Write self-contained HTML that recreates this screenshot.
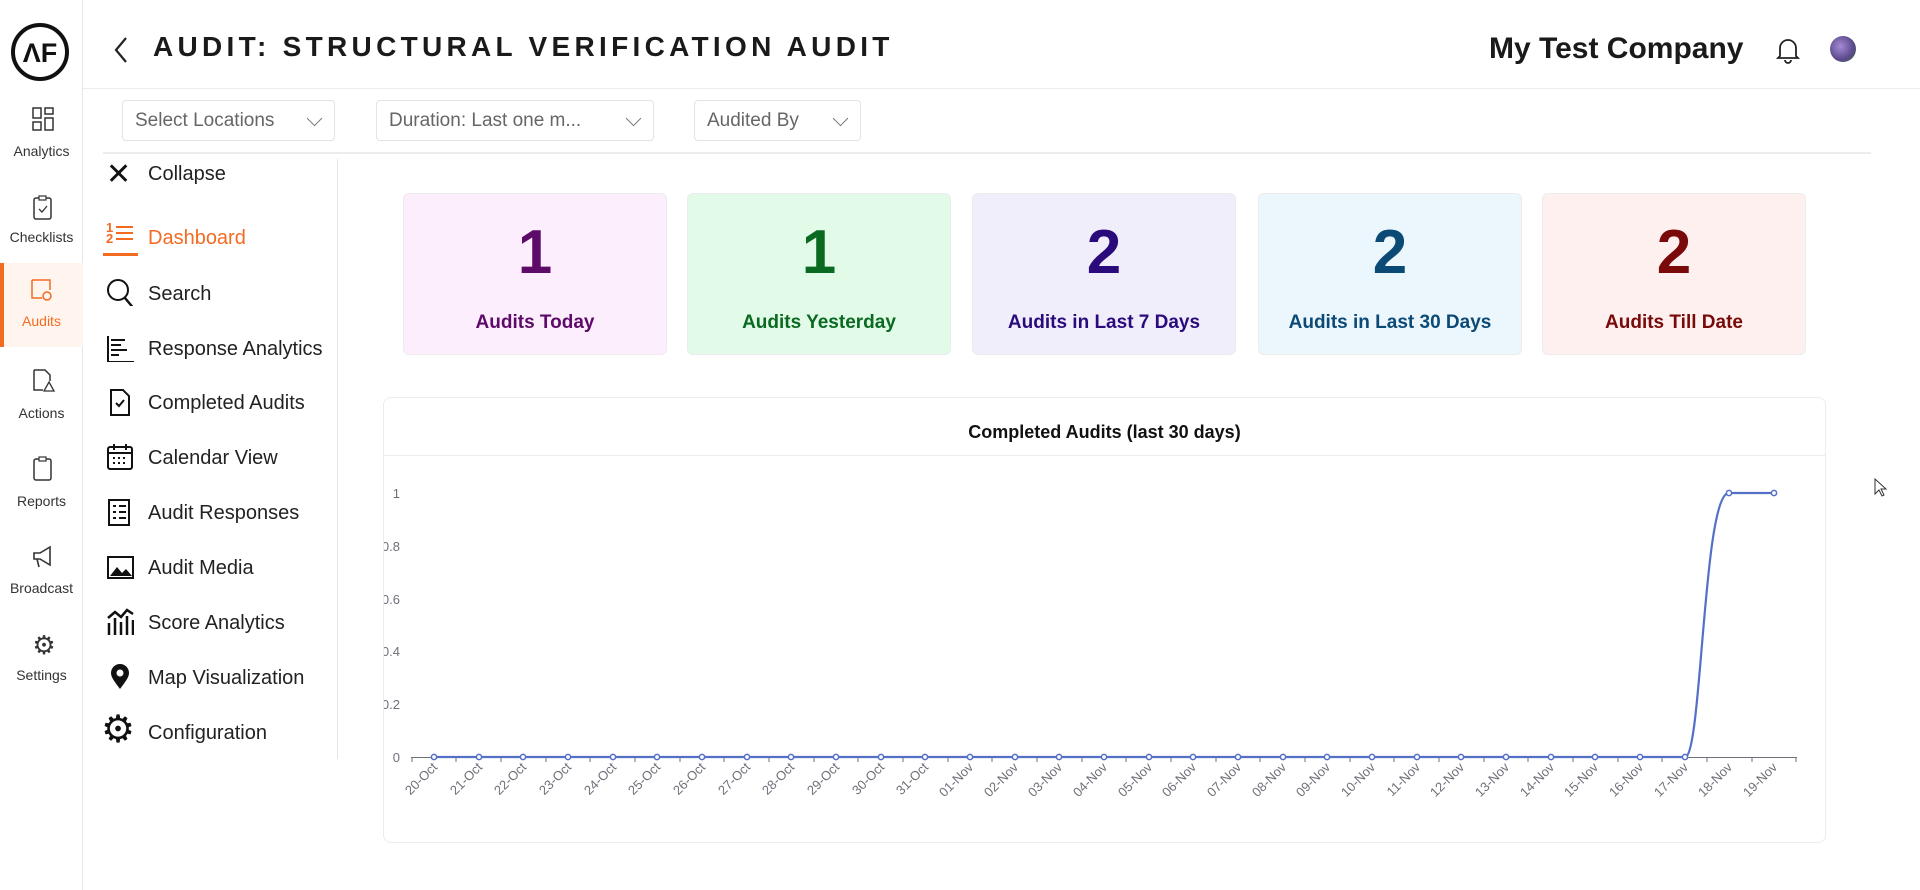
<!DOCTYPE html>
<html><head><meta charset="utf-8"><style>
*{box-sizing:border-box;margin:0;padding:0}
body{width:1920px;height:890px;background:#fff;font-family:"Liberation Sans",sans-serif;position:relative;overflow:hidden;color:#222}
.abs{position:absolute}
.rail{left:0;top:0;width:83px;height:890px;border-right:1px solid #e6e6e6}
.ri{position:absolute;left:0;width:83px;text-align:center;font-size:14px;color:#333}
.dd{position:absolute;top:100px;height:41px;border:1px solid #e3e3e3;border-radius:4px;font-size:19px;color:#666;padding:0 12px;line-height:39px}
.dd span{position:absolute;right:14px;top:12px;width:11px;height:11px;border-right:1.5px solid #777;border-bottom:1.5px solid #777;transform:rotate(45deg)}
.nav{position:absolute;left:148px;font-size:20px;color:#222;line-height:24px}
.ic{position:absolute;left:106px;width:28px;height:28px}
.card{position:absolute;top:193px;width:264px;height:162px;border:1px solid #ececec;border-radius:6px;text-align:center}
.card b{display:block;font-size:62px;margin-top:24px;line-height:70px}
.card i{display:block;font-style:normal;font-weight:bold;font-size:19px;margin-top:24px}
</style></head><body>
<div class="abs rail"></div>
<svg class="abs" style="left:10px;top:22px" width="60" height="60"><circle cx="30" cy="30" r="27" fill="none" stroke="#111" stroke-width="4"/><text x="30" y="40" font-family="Liberation Sans" font-weight="bold" font-size="27" text-anchor="middle" fill="#111">ΛF</text></svg>
<svg class="abs" style="left:32px;top:107px" width="24" height="26"><rect x="1" y="1" width="8" height="10" fill="none" stroke="#333" stroke-width="1.5"/><rect x="13" y="1" width="8" height="6" fill="none" stroke="#333" stroke-width="1.5"/><rect x="1" y="15" width="8" height="8" fill="none" stroke="#333" stroke-width="1.5"/><rect x="13" y="11" width="8" height="12" fill="none" stroke="#333" stroke-width="1.5"/></svg>
<div class="ri" style="top:143px">Analytics</div>
<svg class="abs" style="left:33px;top:195px" width="20" height="26"><rect x="1" y="3" width="17" height="21" rx="2" fill="none" stroke="#333" stroke-width="1.5"/><rect x="6" y="1" width="7" height="4" fill="#fff" stroke="#333" stroke-width="1.2"/><path d="M6 14l3 3 5-6" fill="none" stroke="#333" stroke-width="1.3"/></svg>
<div class="ri" style="top:229px">Checklists</div>
<div class="abs" style="left:0;top:263px;width:83px;height:84px;background:#fff5ee;border-left:4px solid #f26b21"></div>
<svg class="abs" style="left:30px;top:278px" width="26" height="26"><path d="M2 2h18v10M2 2v18h10" fill="none" stroke="#f26b21" stroke-width="1.5"/><circle cx="17" cy="18" r="4" fill="none" stroke="#f26b21" stroke-width="1.5"/></svg>
<div class="ri" style="top:313px;color:#f26b21">Audits</div>
<svg class="abs" style="left:32px;top:368px" width="24" height="26"><path d="M2 2h11l5 5v6M2 2v20h9" fill="none" stroke="#333" stroke-width="1.5"/><path d="M17 14l5 9h-10z" fill="none" stroke="#333" stroke-width="1.3"/></svg>
<div class="ri" style="top:405px">Actions</div>
<svg class="abs" style="left:33px;top:456px" width="20" height="26"><rect x="1" y="3" width="17" height="21" rx="2" fill="none" stroke="#333" stroke-width="1.5"/><rect x="6" y="1" width="7" height="4" fill="#fff" stroke="#333" stroke-width="1.2"/></svg>
<div class="ri" style="top:493px">Reports</div>
<svg class="abs" style="left:31px;top:545px" width="26" height="24"><path d="M3 8h6l10-6v18L9 14H3z M6 14l2 8" fill="none" stroke="#333" stroke-width="1.6"/></svg>
<div class="ri" style="top:580px">Broadcast</div>
<div class="abs" style="left:31px;top:630px;font-size:26px;color:#333;width:26px;text-align:center">⚙</div>
<div class="ri" style="top:667px">Settings</div>

<svg class="abs" style="left:112px;top:36px" width="20" height="28"><path d="M14 2L4 14l10 12" fill="none" stroke="#222" stroke-width="2.2"/></svg>
<div class="abs" style="left:153px;top:31px;font-size:28px;font-weight:bold;letter-spacing:4.3px;color:#1a1a1a">AUDIT: STRUCTURAL VERIFICATION AUDIT</div>
<div class="abs" style="left:1489px;top:32px;font-size:30px;font-weight:bold;color:#1a1a1a">My Test Company</div>
<svg class="abs" style="left:1776px;top:36px" width="24" height="28"><path d="M4 20V12a8 8 0 0 1 16 0v8l2 2H2z M9 24a3 3 0 0 0 6 0" fill="none" stroke="#222" stroke-width="1.8"/></svg>
<div class="abs" style="left:1830px;top:36px;width:26px;height:26px;border-radius:50%;background:radial-gradient(circle at 40% 40%,#a58ad6,#5a4a8a 60%,#3a6a3a)"></div>
<div class="abs" style="left:83px;top:88px;width:1837px;height:1px;background:#ececec"></div>
<div class="dd" style="left:122px;width:213px">Select Locations<span></span></div>
<div class="dd" style="left:376px;width:278px">Duration: Last one m...<span></span></div>
<div class="dd" style="left:694px;width:167px">Audited By<span></span></div>
<div class="abs" style="left:103px;top:152px;width:1768px;height:2px;background:#ececec"></div>
<div class="abs" style="left:337px;top:159px;width:1px;height:600px;background:#e6e6e6"></div>

<div class="abs" style="left:106px;top:160px;font-size:30px;line-height:30px;color:#111">✕</div>
<div class="nav" style="top:162px">Collapse</div>
<div class="abs" style="left:106px;top:222px;font-size:13px;color:#f26b21;line-height:11px;font-weight:bold">1<br>2</div>
<div class="abs" style="left:116px;top:226px;width:17px;height:14px;border-top:2px solid #f26b21;border-bottom:2px solid #f26b21"><div style="margin-top:4px;height:2px;background:#f26b21"></div></div>
<div class="abs" style="left:103px;top:253px;width:35px;height:3px;background:#f26b21"></div>
<div class="nav" style="top:226px;color:#f26b21">Dashboard</div>
<svg class="ic" style="top:278px" width="32" height="34"><circle cx="12" cy="12" r="10" fill="none" stroke="#111" stroke-width="2"/><path d="M19 20l10 12" stroke="#111" stroke-width="2.4"/></svg>
<div class="nav" style="top:282px">Search</div>
<svg class="ic" style="top:334px"><path d="M2 2v26h26M5 6h14M5 11h10M5 16h16M5 21h8" fill="none" stroke="#111" stroke-width="2"/></svg>
<div class="nav" style="top:337px">Response Analytics</div>
<svg class="ic" style="top:388px"><path d="M5 2h12l6 6v19H5z M10 15l3 3 5-6" fill="none" stroke="#111" stroke-width="2"/></svg>
<div class="nav" style="top:391px">Completed Audits</div>
<svg class="ic" style="top:443px"><rect x="2" y="4" width="24" height="22" rx="2" fill="none" stroke="#111" stroke-width="2"/><path d="M2 10h24M8 1v6M20 1v6" stroke="#111" stroke-width="2"/><path d="M7 15h2M12 15h2M17 15h2M7 20h2M12 20h2M17 20h2" stroke="#111" stroke-width="2"/></svg>
<div class="nav" style="top:446px">Calendar View</div>
<svg class="ic" style="top:498px"><rect x="3" y="2" width="20" height="25" fill="none" stroke="#111" stroke-width="2"/><path d="M7 8h3M13 8h7M7 14h3M13 14h7M7 20h3M13 20h7" stroke="#111" stroke-width="2"/></svg>
<div class="nav" style="top:501px">Audit Responses</div>
<svg class="ic" style="top:553px"><rect x="2" y="4" width="25" height="21" fill="none" stroke="#111" stroke-width="2"/><path d="M4 23l7-9 5 6 4-4 6 7z" fill="#111"/></svg>
<div class="nav" style="top:556px">Audit Media</div>
<svg class="ic" style="top:608px"><path d="M3 27V15M9 27V10M15 27V14M21 27V8M27 27V12M2 10l7-6 6 5 6-7 6 4" fill="none" stroke="#111" stroke-width="2.5"/></svg>
<div class="nav" style="top:611px">Score Analytics</div>
<svg class="ic" style="top:663px"><path d="M14 26c-6-8-9-12-9-16a9 9 0 0 1 18 0c0 4-3 8-9 16z" fill="#111"/><circle cx="14" cy="10" r="3.5" fill="#fff"/></svg>
<div class="nav" style="top:666px">Map Visualization</div>
<div class="abs" style="left:101px;top:711px;font-size:38px;line-height:38px;color:#111">⚙</div>
<div class="nav" style="top:721px">Configuration</div>

<div class="card" style="left:403px;background:#fdeefd;color:#5c0b68"><b>1</b><i>Audits Today</i></div>
<div class="card" style="left:687px;background:#e2fbe8;color:#0b6a22"><b>1</b><i>Audits Yesterday</i></div>
<div class="card" style="left:972px;background:#f1eefc;color:#2b0b7c"><b>2</b><i>Audits in Last 7 Days</i></div>
<div class="card" style="left:1258px;background:#ecf6fd;color:#0c4a76"><b>2</b><i>Audits in Last 30 Days</i></div>
<div class="card" style="left:1542px;background:#fdf0ef;color:#7a0a0a"><b>2</b><i>Audits Till Date</i></div>

<div class="abs" style="left:383px;top:397px;width:1443px;height:446px;border:1px solid #ececec;border-radius:8px;overflow:hidden">
<div style="text-align:center;font-weight:bold;font-size:18px;margin-top:24px;color:#111">Completed Audits (last 30 days)</div>
<div style="position:absolute;left:0;top:57px;width:100%;height:1px;background:#ececec"></div>
</div>
<svg class="abs" style="left:384px;top:0" width="1440" height="890" font-family="Liberation Sans" font-size="13" fill="#6e7079">
<g transform="translate(-384,0)">
<g text-anchor="end">
<text x="400" y="498">1</text><text x="400" y="551">0.8</text><text x="400" y="604">0.6</text><text x="400" y="656">0.4</text><text x="400" y="709">0.2</text><text x="400" y="762">0</text>
</g>
<line x1="411" y1="757.5" x2="1797" y2="757.5" stroke="#6e7079" stroke-width="1"/>
<path stroke="#6e7079" fill="none" d="M412 757v5M456 757v5M501 757v5M546 757v5M590 757v5M635 757v5M680 757v5M724 757v5M769 757v5M814 757v5M858 757v5M903 757v5M948 757v5M992 757v5M1037 757v5M1082 757v5M1126 757v5M1171 757v5M1216 757v5M1260 757v5M1305 757v5M1350 757v5M1394 757v5M1439 757v5M1484 757v5M1528 757v5M1573 757v5M1618 757v5M1662 757v5M1707 757v5M1752 757v5M1796 757v5"/>
<g text-anchor="end">
<text transform="translate(438,768) rotate(-45)">20-Oct</text>
<text transform="translate(483,768) rotate(-45)">21-Oct</text>
<text transform="translate(527,768) rotate(-45)">22-Oct</text>
<text transform="translate(572,768) rotate(-45)">23-Oct</text>
<text transform="translate(617,768) rotate(-45)">24-Oct</text>
<text transform="translate(661,768) rotate(-45)">25-Oct</text>
<text transform="translate(706,768) rotate(-45)">26-Oct</text>
<text transform="translate(751,768) rotate(-45)">27-Oct</text>
<text transform="translate(795,768) rotate(-45)">28-Oct</text>
<text transform="translate(840,768) rotate(-45)">29-Oct</text>
<text transform="translate(885,768) rotate(-45)">30-Oct</text>
<text transform="translate(929,768) rotate(-45)">31-Oct</text>
<text transform="translate(974,768) rotate(-45)">01-Nov</text>
<text transform="translate(1019,768) rotate(-45)">02-Nov</text>
<text transform="translate(1063,768) rotate(-45)">03-Nov</text>
<text transform="translate(1108,768) rotate(-45)">04-Nov</text>
<text transform="translate(1153,768) rotate(-45)">05-Nov</text>
<text transform="translate(1197,768) rotate(-45)">06-Nov</text>
<text transform="translate(1242,768) rotate(-45)">07-Nov</text>
<text transform="translate(1287,768) rotate(-45)">08-Nov</text>
<text transform="translate(1331,768) rotate(-45)">09-Nov</text>
<text transform="translate(1376,768) rotate(-45)">10-Nov</text>
<text transform="translate(1421,768) rotate(-45)">11-Nov</text>
<text transform="translate(1465,768) rotate(-45)">12-Nov</text>
<text transform="translate(1510,768) rotate(-45)">13-Nov</text>
<text transform="translate(1555,768) rotate(-45)">14-Nov</text>
<text transform="translate(1599,768) rotate(-45)">15-Nov</text>
<text transform="translate(1644,768) rotate(-45)">16-Nov</text>
<text transform="translate(1689,768) rotate(-45)">17-Nov</text>
<text transform="translate(1733,768) rotate(-45)">18-Nov</text>
<text transform="translate(1778,768) rotate(-45)">19-Nov</text>
</g>
<path d="M434 757H1685C1702 757 1703 493 1729 493H1774" fill="none" stroke="#5470c6" stroke-width="2.2"/>
<g fill="#fff" stroke="#5470c6" stroke-width="1.5">
<circle cx="434" cy="757" r="2.6"/><circle cx="479" cy="757" r="2.6"/><circle cx="523" cy="757" r="2.6"/><circle cx="568" cy="757" r="2.6"/><circle cx="613" cy="757" r="2.6"/><circle cx="657" cy="757" r="2.6"/><circle cx="702" cy="757" r="2.6"/><circle cx="747" cy="757" r="2.6"/><circle cx="791" cy="757" r="2.6"/><circle cx="836" cy="757" r="2.6"/><circle cx="881" cy="757" r="2.6"/><circle cx="925" cy="757" r="2.6"/><circle cx="970" cy="757" r="2.6"/><circle cx="1015" cy="757" r="2.6"/><circle cx="1059" cy="757" r="2.6"/><circle cx="1104" cy="757" r="2.6"/><circle cx="1149" cy="757" r="2.6"/><circle cx="1193" cy="757" r="2.6"/><circle cx="1238" cy="757" r="2.6"/><circle cx="1283" cy="757" r="2.6"/><circle cx="1327" cy="757" r="2.6"/><circle cx="1372" cy="757" r="2.6"/><circle cx="1417" cy="757" r="2.6"/><circle cx="1461" cy="757" r="2.6"/><circle cx="1506" cy="757" r="2.6"/><circle cx="1551" cy="757" r="2.6"/><circle cx="1595" cy="757" r="2.6"/><circle cx="1640" cy="757" r="2.6"/><circle cx="1685" cy="757" r="2.6"/><circle cx="1729" cy="493" r="2.6"/><circle cx="1774" cy="493" r="2.6"/>
</g>
</g>
</svg>
<svg class="abs" style="left:1873px;top:477px" width="16" height="22"><path d="M2 2v15l4-4 3 6 2-1-3-6h5z" fill="#fff" stroke="#333" stroke-width="1"/></svg>
</body></html>
